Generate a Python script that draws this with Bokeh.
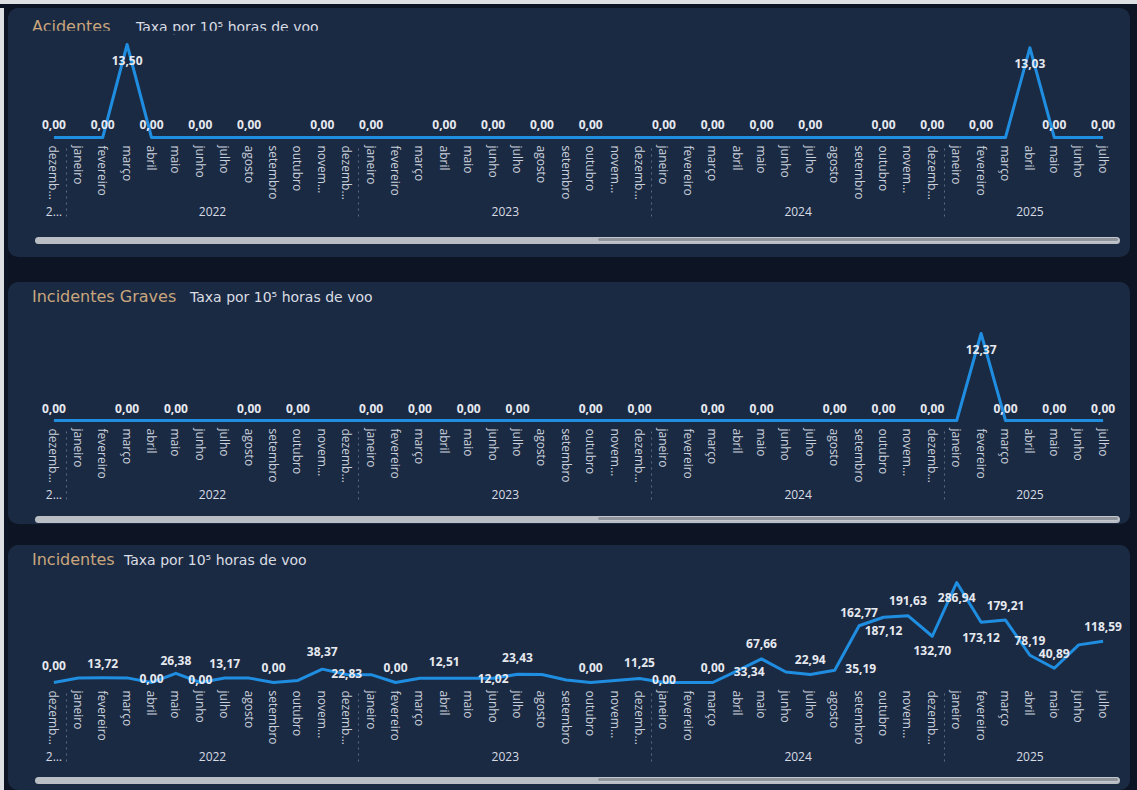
from bokeh.plotting import figure
from bokeh.models import FactorRange, ColumnDataSource, Div, Spacer, Range1d
from bokeh.layouts import column, row
from bokeh.embed import file_html
from bokeh.resources import INLINE
from bokeh.core.properties import value

# ---------------- data ----------------
month_names = ["janeiro", "fevereiro", "março", "abril", "maio", "junho", "julho",
               "agosto", "setembro", "outubro", "novem…", "dezemb…"]
year_labels = ["2…", "2022", "2023", "2024", "2025"]
months_by_year = [["dezemb…"], month_names, month_names, month_names, month_names[:7]]

acidentes = [0.00,
             0.00, 0.00, 13.50, 0.00, 0.00, 0.00, 0.00, 0.00, 0.00, 0.00, 0.00, 0.00,
             0.00, 0.00, 0.00, 0.00, 0.00, 0.00, 0.00, 0.00, 0.00, 0.00, 0.00, 0.00,
             0.00, 0.00, 0.00, 0.00, 0.00, 0.00, 0.00, 0.00, 0.00, 0.00, 0.00, 0.00,
             0.00, 0.00, 0.00, 13.03, 0.00, 0.00, 0.00]

incidentes_graves = [0.00,
                     0.00, 0.00, 0.00, 0.00, 0.00, 0.00, 0.00, 0.00, 0.00, 0.00, 0.00, 0.00,
                     0.00, 0.00, 0.00, 0.00, 0.00, 0.00, 0.00, 0.00, 0.00, 0.00, 0.00, 0.00,
                     0.00, 0.00, 0.00, 0.00, 0.00, 0.00, 0.00, 0.00, 0.00, 0.00, 0.00, 0.00,
                     0.00, 12.37, 0.00, 0.00, 0.00, 0.00, 0.00]

incidentes = [0.00,
              12.90, 13.72, 13.20, 0.00, 26.38, 0.00, 13.17, 12.60, 0.00, 6.00, 38.37, 22.83,
              22.40, 0.00, 12.30, 12.51, 12.20, 12.02, 23.43, 23.00, 7.00, 0.00, 5.50, 11.25,
              0.00, 0.00, 0.00, 33.34, 67.66, 30.00, 22.94, 35.19, 162.77, 187.12, 191.63, 132.70,
              286.94, 173.12, 179.21, 78.19, 40.89, 108.00, 118.59]

# which points carry a visible data label (Power BI hides overlapping ones)
shown_acidentes = [0, 2, 3, 4, 6, 8, 11, 13, 16, 18, 20, 22, 25, 27, 29, 31, 34, 36, 38, 40, 41, 43]
shown_graves = [0, 3, 5, 8, 10, 13, 15, 17, 19, 22, 24, 27, 29, 32, 34, 36, 38, 39, 41, 43]
shown_incidentes = [0, 2, 4, 5, 6, 7, 9, 11, 12, 14, 16, 18, 19, 22, 24, 25, 27, 28, 29,
                    31, 32, 33, 34, 35, 36, 37, 38, 39, 40, 41, 43]

# ---------------- style ----------------
W = 1122
NAVY = "#1b2a43"
DARK = "#0d1524"
EDGE = "#dedfe2"
BLUE = "#1f8de0"
LABEL_C = "#e6e9ef"
TICK_C = "#c9d0db"
TITLE_C = "#c9a67d"
SUB_C = "#d9dde4"
FONT = "Open Sans"

# label offsets (screen px) for the bottom panel
inc_dy = {0: -17, 2: -14, 4: -4, 5: -13, 6: -3, 7: -14, 9: -15, 11: -18, 12: -1, 14: -15,
          16: -17, 18: 0, 19: -17, 22: -15, 24: -16, 25: -3, 27: -15, 28: 1, 29: -15,
          31: -15, 32: -2, 33: -13, 34: 13, 35: -15, 36: 14, 37: 15, 38: 15, 39: -15,
          40: -15, 41: -15, 43: -15}
inc_dx = {28: 12, 32: 26}

factors = [(y, m) for y, ms in zip(year_labels, months_by_year) for m in ms]

TITLE_H = 22
AXIS_H = 86


def fmt(v):
    return f"{v:.2f}".replace(".", ",")


def make_panel(title, title_x2, title_pad, panel_h, frame_top, base, peak,
               bar_y, values, shown, dy_fn, dx_fn):
    title_div = Div(
        text=(f'<div style="position:relative;width:{W}px;height:{TITLE_H}px;font-family:\'DejaVu Sans\';white-space:nowrap;">'
              f'<span style="position:absolute;left:24px;top:{title_pad}px;line-height:16px;font-size:16px;color:{TITLE_C};">{title}</span>'
              f'<span style="position:absolute;left:{title_x2}px;top:{title_pad}px;line-height:16px;font-size:14px;color:{SUB_C};">Taxa por 10⁵ horas de voo</span>'
              f'</div>'),
        width=W, height=TITLE_H, margin=0)

    frame_bot = base + 8
    fig_h = (frame_bot - TITLE_H) + AXIS_H
    vmax = max(values)
    ppu = (base - peak) / vmax
    y0 = -(frame_bot - base) / ppu
    y1 = (base - frame_top) / ppu

    p = figure(x_range=FactorRange(*factors, group_padding=0, subgroup_padding=0,
                                   range_padding=0.5, range_padding_units="absolute"),
               y_range=Range1d(y0, y1), width=W, height=fig_h,
               output_backend="svg", toolbar_location=None, y_axis_location=None,
               min_border_left=21, min_border_right=W - 21 - 1098,
               min_border_top=frame_top - TITLE_H, min_border_bottom=AXIS_H,
               background_fill_color=NAVY, border_fill_color=NAVY, outline_line_color=None)
    p.grid.visible = False

    p.line(x=factors, y=values, line_color=BLUE, line_width=3, line_join="round")

    src = ColumnDataSource(dict(
        x=[factors[i] for i in shown],
        y=[values[i] for i in shown],
        t=[fmt(values[i]) for i in shown],
        dy=[dy_fn(i) for i in shown],
        dx=[dx_fn(i) for i in shown],
    ))
    p.text(x="x", y="y", text="t", x_offset="dx", y_offset="dy", source=src,
           text_align="center", text_baseline="middle", text_color=LABEL_C,
           text_font=value(FONT), text_font_size=value("12px"), text_font_style="bold")

    ax = p.xaxis[0]
    ax.axis_line_color = None
    ax.major_tick_line_color = None
    ax.minor_tick_line_color = None
    ax.major_tick_in = 0
    ax.major_tick_out = 0
    ax.major_label_orientation = "vertical"
    ax.major_label_standoff = 0
    ax.major_label_text_font = FONT
    ax.major_label_text_font_size = "12px"
    ax.major_label_text_color = TICK_C
    ax.group_text_font = FONT
    ax.group_text_font_size = "12px"
    ax.group_text_font_style = "normal"
    ax.group_text_color = "#d7dce4"
    ax.separator_line_color = "#5b6b82"
    ax.separator_line_dash = "dotted"
    ax.separator_line_width = 1

    used = TITLE_H + fig_h
    bar_h = panel_h - used
    bar_top = max(bar_y - used, 0)
    bar_div = Div(
        text=(f'<div style="position:relative;width:{W}px;height:{bar_h}px;">'
              f'<div style="position:absolute;left:27px;top:{bar_top}px;width:1085px;height:7px;border-radius:4px;background:#b9bdc4;"></div>'
              f'<div style="position:absolute;left:589px;top:{bar_top}px;width:522px;height:5px;border-radius:4px;background:#8f949c;border:1px solid #c4c8ce;"></div>'
              f'</div>'),
        width=W, height=bar_h, margin=0)

    return column(title_div, p, bar_div, width=W,
                  styles={"background-color": NAVY, "border-radius": "10px"})


panel1 = make_panel("Acidentes", 128, 11, 249, 26, 129, 36, 229,
                    acidentes, shown_acidentes,
                    lambda i: 16 if acidentes[i] > 0 else -13, lambda i: 0)
panel2 = make_panel("Incidentes Graves", 182, 7, 242, 26, 138, 51, 230,
                    incidentes_graves, shown_graves,
                    lambda i: 16 if incidentes_graves[i] > 0 else -12, lambda i: 0)
panel3 = make_panel("Incidentes", 116, 7, 245, 26, 137, 37, 232,
                    incidentes, shown_incidentes,
                    lambda i: inc_dy.get(i, -15), lambda i: inc_dx.get(i, 0))

panels = column(panel1, Spacer(width=W, height=25), panel2, Spacer(width=W, height=21), panel3,
                width=W)

body = row(Spacer(width=4, height=782, styles={"background-color": EDGE}),
           Spacer(width=4, height=782),
           panels,
           Spacer(width=7, height=782))

root = column(Spacer(width=1137, height=4, styles={"background-color": EDGE}),
              Spacer(width=1137, height=4),
              body,
              width=1137, styles={"background-color": DARK})

with open("out.html", "w") as f:
    f.write(file_html(root, INLINE))
